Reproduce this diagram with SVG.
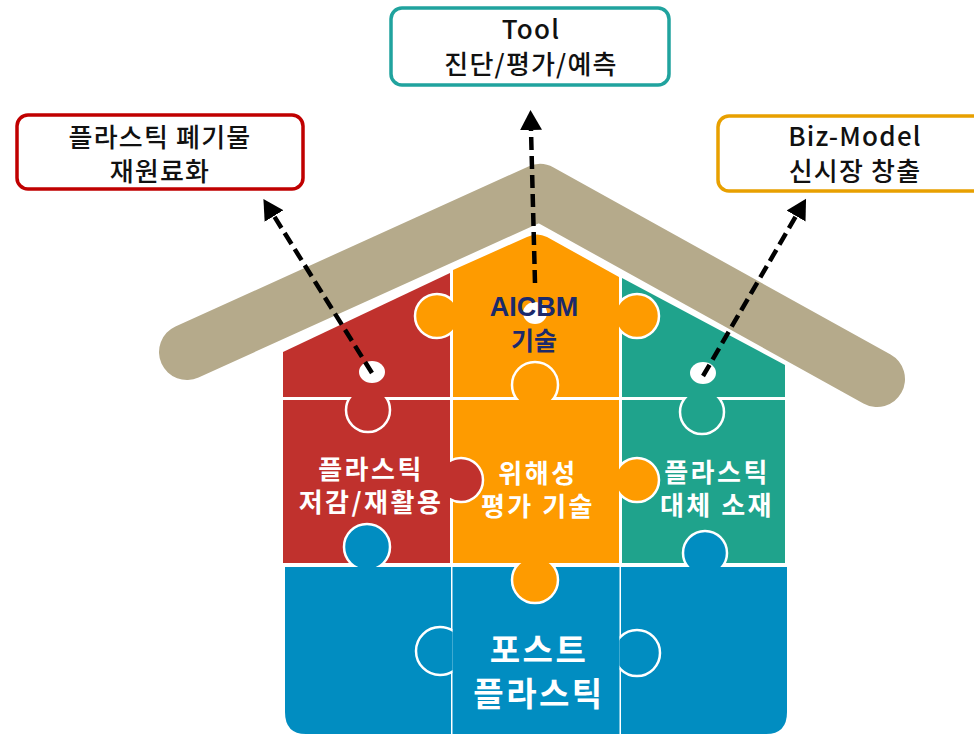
<svg xmlns="http://www.w3.org/2000/svg" width="974" height="734" viewBox="0 0 974 734">
  <style>
    .kr { font-family: "Noto Sans CJK KR", "Noto Sans", sans-serif; font-weight: 700; text-anchor: middle; }
    .box-text { font-size: 26px; fill: #111; letter-spacing: 1.2px; font-weight: 500; }
    .house-text { font-size: 26px; fill: #ffffff; letter-spacing: 2.5px; }
    .big-text { font-size: 33px; fill: #ffffff; letter-spacing: 2.5px; }
    .navy { fill: #1b2a6b; }
    .box { fill: #ffffff; stroke-width: 3.5; }
    .red { fill: #c0312d; }
    .orange { fill: #fe9b00; }
    .teal { fill: #1fa38c; }
    .blue { fill: #018dc1; }
    .knob { stroke: #ffffff; stroke-width: 2.5; }
    .hole { fill: #ffffff; }
    .dash { fill: none; stroke: #000; stroke-width: 4.5; stroke-dasharray: 13 6; }
  </style>
  <defs>
    <marker id="head" viewBox="0 0 20 22" refX="0" refY="11" markerWidth="20" markerHeight="22" markerUnits="userSpaceOnUse" orient="auto">
      <path d="M0,0 L20,11 L0,22 Z" fill="#000"/>
    </marker>
    <clipPath id="c1"><rect x="283" y="250" width="170" height="147"/></clipPath>
    <clipPath id="c2"><rect x="619" y="250" width="166" height="147"/></clipPath>
    <clipPath id="c3"><rect x="283" y="397" width="167" height="166"/></clipPath>
    <clipPath id="c4"><rect x="622" y="397" width="163" height="166"/></clipPath>
    <clipPath id="c5"><rect x="453" y="230" width="166" height="170"/></clipPath>
    <clipPath id="c6"><rect x="450" y="400" width="169" height="163"/></clipPath>
    <clipPath id="c7"><rect x="619" y="400" width="166" height="163"/></clipPath>
    <clipPath id="c8"><rect x="283" y="400" width="167" height="167"/></clipPath>
    <clipPath id="c9"><rect x="622" y="400" width="163" height="167"/></clipPath>
    <clipPath id="c10"><rect x="452.5" y="563" width="167" height="171"/></clipPath>
    <clipPath id="c11"><rect x="285" y="567" width="167.5" height="167"/></clipPath>
    <clipPath id="c12"><rect x="619.5" y="567" width="168" height="167"/></clipPath>
  </defs>

  <rect width="974" height="734" fill="#ffffff"/>

  <!-- roof band -->
  <path d="M187,352 L540,192 L877,379" fill="none" stroke="#b5aa8b" stroke-width="56" stroke-linecap="round" stroke-linejoin="round"/>

  <!-- bottom row -->
  <g id="blue-left"><path class="blue" d="M285,567 H451 V734 H306 Q285,734 285,712 Z"/></g>
  <g id="blue-middle"><rect class="blue" x="452.5" y="567" width="167" height="167"/></g>
  <g id="blue-right"><path class="blue" d="M621,567 H787 V712 Q787,734 766,734 H621 Z"/></g>

  <!-- middle row -->
  <g id="red-mid"><rect class="red" x="283" y="400" width="167" height="163"/></g>
  <g id="orange-mid"><rect class="orange" x="453" y="400" width="166" height="163"/></g>
  <g id="teal-mid"><rect class="teal" x="622" y="400" width="163" height="163"/></g>

  <!-- top row -->
  <g id="red-top"><path class="red" d="M283,352 L450,273 V397 H283 Z"/></g>
  <g id="orange-top"><path class="orange" d="M453,270 L527,237 Q537,232 547,237 L619,277 V397 H453 Z"/></g>
  <g id="teal-top"><path class="teal" d="M622,278 L785,365 V397 H622 Z"/></g>

  <!-- puzzle knobs -->
  <g id="knobs">
    <circle class="orange knob" cx="437" cy="316" r="22" clip-path="url(#c1)"/>
    <circle class="orange knob" cx="637" cy="316" r="22" clip-path="url(#c2)"/>
    <circle class="red knob" cx="368" cy="410" r="22" clip-path="url(#c3)"/>
    <circle class="teal knob" cx="702" cy="412" r="22" clip-path="url(#c4)"/>
    <circle class="orange knob" cx="535" cy="385" r="23" clip-path="url(#c5)"/>
    <circle class="red knob" cx="461" cy="480" r="22" clip-path="url(#c6)"/>
    <circle class="orange knob" cx="637" cy="480" r="22" clip-path="url(#c7)"/>
    <circle class="blue knob" cx="367" cy="547" r="23" clip-path="url(#c8)"/>
    <circle class="blue knob" cx="705" cy="553" r="22" clip-path="url(#c9)"/>
    <circle class="orange knob" cx="535" cy="580" r="23" clip-path="url(#c10)"/>
    <circle class="blue knob" cx="440" cy="651" r="24" clip-path="url(#c11)"/>
    <circle class="blue knob" cx="637" cy="653" r="23" clip-path="url(#c12)"/>
  </g>

  <!-- connector holes -->
  <ellipse class="hole" cx="372" cy="372" rx="13" ry="11"/>
  <ellipse class="hole" cx="535" cy="313" rx="12" ry="11"/>
  <ellipse class="hole" cx="703" cy="373" rx="13" ry="11"/>

  <!-- house labels -->
  <g id="label-aicbm">
    <text x="534" y="316" font-family="Liberation Sans, Arial, sans-serif" font-weight="700" font-size="27" text-anchor="middle" class="navy">AICBM</text>
    <text x="534" y="350" class="kr navy" font-size="25">기술</text>
  </g>
  <g id="label-reduce">
    <text x="371" y="479" class="kr house-text">플라스틱</text>
    <text x="371" y="512" class="kr house-text">저감/재활용</text>
  </g>
  <g id="label-hazard">
    <text x="538" y="483" class="kr house-text">위해성</text>
    <text x="538" y="516" class="kr house-text">평가 기술</text>
  </g>
  <g id="label-substitute">
    <text x="717" y="482" class="kr house-text">플라스틱</text>
    <text x="717" y="515" class="kr house-text">대체 소재</text>
  </g>
  <g id="label-post">
    <text x="539" y="662" class="kr big-text">포스트</text>
    <text x="539" y="706" class="kr big-text">플라스틱</text>
  </g>

  <!-- connectors -->
  <g id="connectors">
    <path class="dash" d="M372,373 L274,216" marker-end="url(#head)"/>
    <path class="dash" d="M535,283 L531,130" marker-end="url(#head)"/>
    <path class="dash" d="M703,376 L796,216" marker-end="url(#head)"/>
  </g>

  <!-- outcome boxes -->
  <g id="box-recycle">
    <rect class="box" x="17" y="115" width="286" height="74" rx="11" stroke="#c00000"/>
    <text x="160" y="147" class="kr box-text">플라스틱 폐기물</text>
    <text x="160" y="181" class="kr box-text">재원료화</text>
  </g>
  <g id="box-tool">
    <rect class="box" x="391" y="8" width="278" height="77" rx="11" stroke="#20a39e"/>
    <text x="531" y="39" class="kr box-text">Tool</text>
    <text x="531" y="74" class="kr box-text">진단/평가/예측</text>
  </g>
  <g id="box-biz">
    <rect class="box" x="718" y="116" width="280" height="75" rx="11" stroke="#e8a000"/>
    <text x="855" y="146" class="kr box-text">Biz-Model</text>
    <text x="855" y="181" class="kr box-text">신시장 창출</text>
  </g>
</svg>
